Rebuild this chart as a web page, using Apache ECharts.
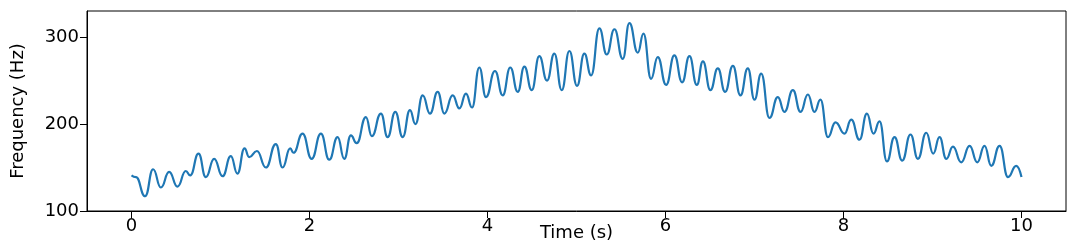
<!DOCTYPE html>
<html>
<head>
<meta charset="utf-8">
<script src="https://cdn.jsdelivr.net/npm/echarts@6/dist/echarts.min.js"></script>
<style>
  html, body { margin: 0; padding: 0; background: #fff; }
  #chart { width: 1080px; height: 250px; }
</style>
</head>
<body>
<div id="chart"></div>
<script>
// pitch contour at each vibrato peak / trough
var times = [
  0.00, 0.05, 0.153, 0.243, 0.33, 0.423, 0.517, 0.61, 0.66, 0.753,
  0.835, 0.929, 1.023, 1.116, 1.19, 1.27, 1.322, 1.409, 1.51, 1.622,
  1.697, 1.783, 1.82, 1.922, 2.024, 2.128, 2.222, 2.316, 2.39, 2.465,
  2.53, 2.634, 2.70, 2.803, 2.878, 2.964, 3.047, 3.129, 3.19, 3.272,
  3.354, 3.44, 3.515, 3.609, 3.684, 3.758, 3.826, 3.908, 3.983, 4.084,
  4.171, 4.256, 4.34, 4.414, 4.497, 4.582, 4.669, 4.751, 4.834, 4.92,
  5.006, 5.088, 5.164, 5.257, 5.34, 5.426, 5.52, 5.594, 5.689, 5.752,
  5.838, 5.913, 6.007, 6.10, 6.187, 6.269, 6.352, 6.42, 6.505, 6.588,
  6.67, 6.757, 6.842, 6.925, 7.00, 7.075, 7.168, 7.262, 7.337, 7.431,
  7.517, 7.60, 7.674, 7.741, 7.825, 7.91, 8.011, 8.087, 8.18, 8.263,
  8.337, 8.405, 8.488, 8.573, 8.66, 8.753, 8.836, 8.93, 9.008, 9.079,
  9.155, 9.23, 9.323, 9.417, 9.503, 9.585, 9.66, 9.754, 9.848, 9.941,
  10.00
];
var freqs = [
  141, 139, 117, 148, 127, 145, 128, 146, 141, 166,
  139, 160, 140, 163, 143, 172, 162, 169, 150, 177,
  150, 172, 167, 189, 160, 189, 159, 185, 160, 187,
  178, 208, 186, 212, 185, 214, 185, 216, 200, 233,
  212, 237, 212, 233, 218, 235, 219, 265, 231, 261,
  233, 265, 237, 266, 239, 278, 250, 281, 239, 284,
  244, 281, 256, 310, 280, 309, 275, 316, 282, 304,
  252, 277, 245, 279, 248, 278, 245, 272, 239, 264,
  237, 267, 233, 264, 228, 258, 207, 231, 214, 239,
  214, 234, 214, 228, 185, 202, 189, 205, 182, 212,
  189, 203, 157, 185, 158, 188, 160, 190, 166, 185,
  160, 174, 156, 175, 156, 175, 152, 175, 139, 152,
  139
];
var xTicks = [0, 2, 4, 6, 8, 10];
var yTicks = [100, 200, 300];

var chart = echarts.init(document.getElementById("chart"));

var pts = [];
for (var i = 0; i < times.length; i++) {
  pts.push([times[i], freqs[i]]);
}

var font = "DejaVu Sans";

var option = {
  backgroundColor: "#fff",
  animation: false,
  grid: {
    left: 87,
    right: 14,
    top: 11,
    bottom: 39,
    outerBoundsMode: "none",
    containLabel: false,
    show: true,
    borderColor: "#000",
    borderWidth: 1,
    backgroundColor: "transparent",
  },
  xAxis: {
    type: "value",
    min: -0.5,
    max: 10.5,
    name: "Time (s)",
    nameLocation: "middle",
    nameGap: 13,
    nameMoveOverlap: false,
    nameTextStyle: { fontFamily: font, fontSize: 18, color: "#000" },
    axisLine: { show: true, onZero: false, lineStyle: { color: "#000", width: 1 } },
    axisTick: { show: true, length: 7, customValues: xTicks, lineStyle: { color: "#000" } },
    axisLabel: {
      customValues: xTicks,
      margin: 6,
      fontFamily: font,
      fontSize: 18,
      color: "#000",
    },
    splitLine: { show: false },
  },
  yAxis: {
    type: "value",
    min: 100,
    max: 330,
    name: "Frequency (Hz)",
    nameLocation: "middle",
    nameGap: 60,
    nameMoveOverlap: false,
    nameTextStyle: { fontFamily: font, fontSize: 18, color: "#000" },
    axisLine: { show: true, onZero: false, lineStyle: { color: "#000", width: 1 } },
    axisTick: { show: true, length: 7, customValues: yTicks, lineStyle: { color: "#000" } },
    axisLabel: {
      customValues: yTicks,
      margin: 8,
      fontFamily: font,
      fontSize: 18,
      color: "#000",
    },
    splitLine: { show: false },
  },
  series: [
    {
      type: "line",
      data: pts,
      smooth: 0.5,
      smoothMonotone: "x",
      showSymbol: false,
      lineStyle: { color: "#1f77b4", width: 2.2 },
    },
  ],
};

chart.setOption(option);
</script>
</body>
</html>
